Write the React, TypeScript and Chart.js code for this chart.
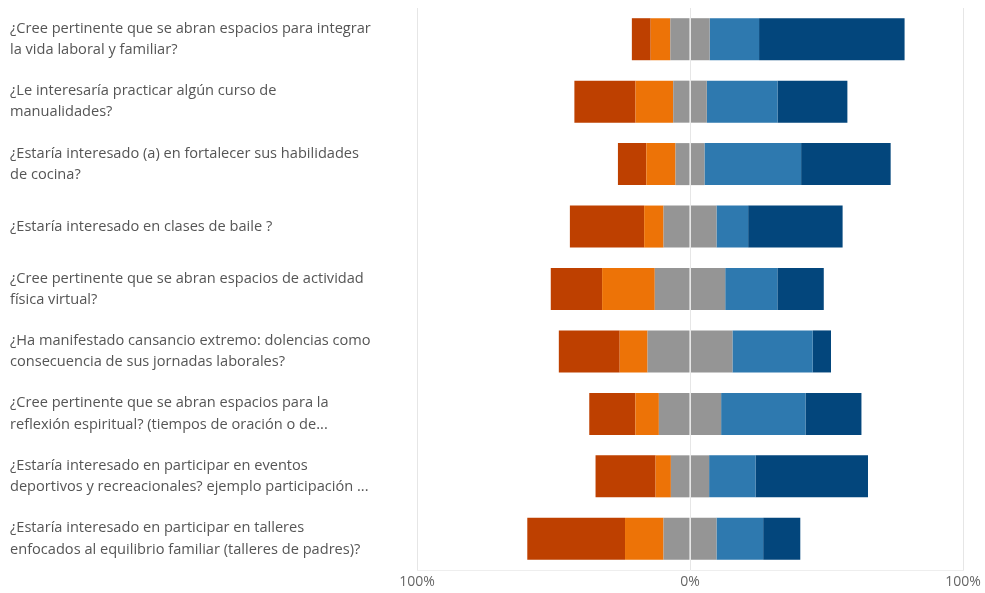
import React, { useEffect, useRef } from "react";
import { Chart, registerables } from "chart.js";

Chart.register(...registerables);

const questions: (string | string[])[] = [
  ["¿Cree pertinente que se abran espacios para integrar", "la vida laboral y familiar?"],
  ["¿Le interesaría practicar algún curso de", "manualidades?"],
  ["¿Estaría interesado (a) en fortalecer sus habilidades", "de cocina?"],
  "¿Estaría interesado en clases de baile ?",
  ["¿Cree pertinente que se abran espacios de actividad", "física virtual?"],
  ["¿Ha manifestado cansancio extremo: dolencias como", "consecuencia de sus jornadas laborales?"],
  ["¿Cree pertinente que se abran espacios para la", "reflexión espiritual? (tiempos de oración o de..."],
  ["¿Estaría interesado en participar en eventos", "deportivos y recreacionales? ejemplo participación ..."],
  ["¿Estaría interesado en participar en talleres", "enfocados al equilibrio familiar (talleres de padres)?"],
];

// Percentages per response level
const stronglyDisagree = [6.9, 22.4, 10.4, 27.2, 18.8, 22.3, 16.9, 22.0, 35.8];
const disagree = [7.2, 13.8, 10.7, 7.1, 19.3, 10.2, 8.6, 5.6, 14.1];
const neutral = [14.4, 12.3, 10.6, 19.4, 25.8, 31.1, 22.8, 14.0, 19.4];
const agree = [18.1, 25.9, 35.4, 11.6, 19.1, 29.4, 30.9, 17.0, 17.1];
const stronglyAgree = [53.3, 25.6, 32.8, 34.6, 17.0, 6.7, 20.5, 41.2, 13.6];

const tickValues = [-100, 0, 100];

const COLORS = {
  sd: "#BE4000",
  d: "#ED7307",
  n: "#959595",
  a: "#2E79AF",
  sa: "#03467C",
};

export default function App() {
  const ref = useRef<HTMLCanvasElement | null>(null);

  useEffect(() => {
    if (!ref.current) return;
    const neg = (arr: number[]) => arr.map((v) => -v);
    const half = (arr: number[]) => arr.map((v) => v / 2);
    const common = { borderWidth: 0, barPercentage: 0.673, categoryPercentage: 1 };
    const chart = new Chart(ref.current, {
      type: "bar",
      data: {
        labels: questions,
        datasets: [
          { label: "Neutral", data: neg(half(neutral)), backgroundColor: COLORS.n, ...common },
          { label: "En desacuerdo", data: neg(disagree), backgroundColor: COLORS.d, ...common },
          { label: "Totalmente en desacuerdo", data: neg(stronglyDisagree), backgroundColor: COLORS.sd, ...common },
          { label: "Neutral ", data: half(neutral), backgroundColor: COLORS.n, ...common },
          { label: "De acuerdo", data: agree, backgroundColor: COLORS.a, ...common },
          { label: "Totalmente de acuerdo", data: stronglyAgree, backgroundColor: COLORS.sa, ...common },
        ],
      },
      options: {
        indexAxis: "y",
        animation: false,
        responsive: true,
        maintainAspectRatio: false,
        layout: { padding: { top: 8, left: 10, right: 22, bottom: 0 } },
        plugins: { legend: { display: false }, tooltip: { enabled: false } },
        scales: {
          x: {
            stacked: true,
            min: -100,
            max: 100,
            afterBuildTicks: (scale: any) => {
              scale.ticks = tickValues.map((v) => ({ value: v }));
            },
            afterFit: (scale: any) => {
              scale.height = 23;
            },
            ticks: {
              callback: (v: any) => Math.abs(Number(v)) + "%",
              color: "#666",
              padding: 4,
              font: { family: "'Open Sans', sans-serif", size: 14 },
            },
            grid: { color: "#e6e6e6", drawTicks: false, z: 1, lineWidth: 1 },
            border: { display: true, color: "#eeeeee", z: 1 },
          },
          y: {
            stacked: true,
            afterFit: (scale: any) => {
              scale.width = 407;
              scale.paddingTop = 0;
              scale.paddingBottom = 0;
            },
            ticks: {
              crossAlign: "far",
              color: "#555",
              padding: 0,
              font: { family: "'Open Sans', sans-serif", size: 14.6, lineHeight: 1.45 },
            },
            grid: { display: false, drawTicks: false },
            border: { display: false },
          },
        },
      },
    } as any);
    return () => chart.destroy();
  }, []);

  return (
    <div style={{ position: "fixed", left: 0, top: 0, width: 985, height: 593, background: "#fff" }}>
      <canvas ref={ref} />
    </div>
  );
}
